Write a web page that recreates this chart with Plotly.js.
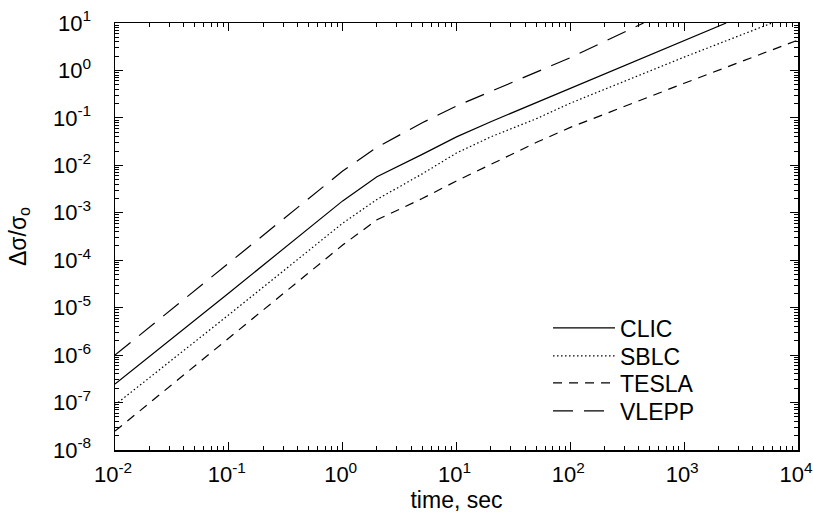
<!DOCTYPE html>
<html>
<head>
<meta charset="utf-8">
<script src="https://cdn.plot.ly/plotly-3.0.1.min.js"></script>
<style>
  html, body { margin: 0; padding: 0; background: #fff; }
  #chart { width: 813px; height: 518px; }
</style>
</head>
<body>
<div id="chart"></div>
<script>
// time, sec
const tClic  = [0.01, 0.1, 1, 2, 5, 10, 20, 50, 100, 1000, 2340];
const yClic  = [2.45e-7, 2.04e-5, 1.78e-3, 5.75e-3, 1.70e-2, 3.98e-2, 8.3e-2, 0.209, 0.427, 4.27, 10];

const tSblc  = [0.01, 0.1, 1, 2, 5, 10, 20, 50, 100, 1000, 5900];
const ySblc  = [8.9e-8, 7.08e-6, 6.03e-4, 1.91e-3, 6.6e-3, 1.82e-2, 3.98e-2, 9.55e-2, 0.204, 1.91, 10];

const tTesla = [0.01, 0.1, 1, 2, 5, 10, 20, 50, 100, 1000, 10000];
const yTesla = [2.5e-8, 2.24e-6, 2.09e-4, 7.1e-4, 2.0e-3, 4.68e-3, 1.05e-2, 3.02e-2, 6.3e-2, 0.537, 4.37];

const tVlepp = [0.01, 0.1, 1, 2, 5, 10, 20, 50, 100, 440];
const yVlepp = [1.0e-6, 8.9e-5, 7.59e-3, 2.4e-2, 7.9e-2, 0.178, 0.363, 0.933, 1.86, 10];

const xTickVals = [0.01, 0.1, 1, 10, 100, 1000, 10000];
const xTickText = ['10<sup>-2</sup>', '10<sup>-1</sup>', '10<sup>0</sup>', '10<sup>1</sup>', '10<sup>2</sup>', '10<sup>3</sup>', '10<sup>4</sup>'];
const yTickVals = [1e-8, 1e-7, 1e-6, 1e-5, 1e-4, 1e-3, 1e-2, 1e-1, 1, 10];
const yTickText = ['10<sup>-8</sup>', '10<sup>-7</sup>', '10<sup>-6</sup>', '10<sup>-5</sup>', '10<sup>-4</sup>',
                   '10<sup>-3</sup>', '10<sup>-2</sup>', '10<sup>-1</sup>', '10<sup>0</sup>', '10<sup>1</sup>'];

const FONT = 'Liberation Sans, Arial, Helvetica, sans-serif';
const TICK_SIZE = 22;
const TEXT_SIZE = 23;

const traces = [
  { x: tClic,  y: yClic,  name: 'CLIC',  mode: 'lines', legend: 'legend',  line: { color: '#000', width: 1.2, dash: 'solid' } },
  { x: tSblc,  y: ySblc,  name: 'SBLC',  mode: 'lines', legend: 'legend2', line: { color: '#000', width: 1.2, dash: '1.5px,2.5px' } },
  { x: tTesla, y: yTesla, name: 'TESLA', mode: 'lines', legend: 'legend3', line: { color: '#000', width: 1.2, dash: '9px,7px' } },
  { x: tVlepp, y: yVlepp, name: 'VLEPP', mode: 'lines', legend: 'legend4', line: { color: '#000', width: 1.2, dash: '20px,11px' } }
];

const axisCommon = {
  type: 'log',
  showline: true, linecolor: '#000', linewidth: 1.5,
  mirror: 'allticks',
  ticks: 'inside', ticklen: 8, tickwidth: 1, tickcolor: '#000',
  showgrid: false, zeroline: false,
  ticklabeloverflow: 'allow',
  tickfont: { family: FONT, size: TICK_SIZE, color: '#000' },
  minor: { ticks: 'inside', ticklen: 4, tickwidth: 1, tickcolor: '#000', dtick: 'D1', showgrid: false }
};

function legendAt(yc) {
  return {
    x: 0.634, y: yc, xanchor: 'left', yanchor: 'middle',
    bgcolor: 'rgba(0,0,0,0)', borderwidth: 0,
    font: { family: FONT, size: TEXT_SIZE, color: '#000' },
    itemwidth: 62
  };
}

const layout = {
  width: 813, height: 518,
  margin: { l: 115, r: 15, t: 23, b: 68 },
  paper_bgcolor: '#fff', plot_bgcolor: '#fff',
  font: { family: FONT, size: TEXT_SIZE, color: '#000' },
  showlegend: true,
  legend:  legendAt(0.2857),
  legend2: legendAt(0.2201),
  legend3: legendAt(0.1569),
  legend4: legendAt(0.0913),
  xaxis: Object.assign({}, axisCommon, {
    range: [-2, 4], tickmode: 'array', tickvals: xTickVals, ticktext: xTickText,
    ticklabelstandoff: 4, ticklabelshift: -2,
    title: { text: 'time, sec', font: { family: FONT, size: TEXT_SIZE, color: '#000' }, standoff: 6 }
  }),
  yaxis: Object.assign({}, axisCommon, {
    range: [-8, 1], tickmode: 'array', tickvals: yTickVals, ticktext: yTickText,
    ticklabelstandoff: 18,
    title: { text: 'Δσ/σ<sub>o</sub>', font: { family: FONT, size: TEXT_SIZE, color: '#000' }, standoff: 20 }
  })
};

Plotly.newPlot('chart', traces, layout, { staticPlot: true, displayModeBar: false });
</script>
</body>
</html>
